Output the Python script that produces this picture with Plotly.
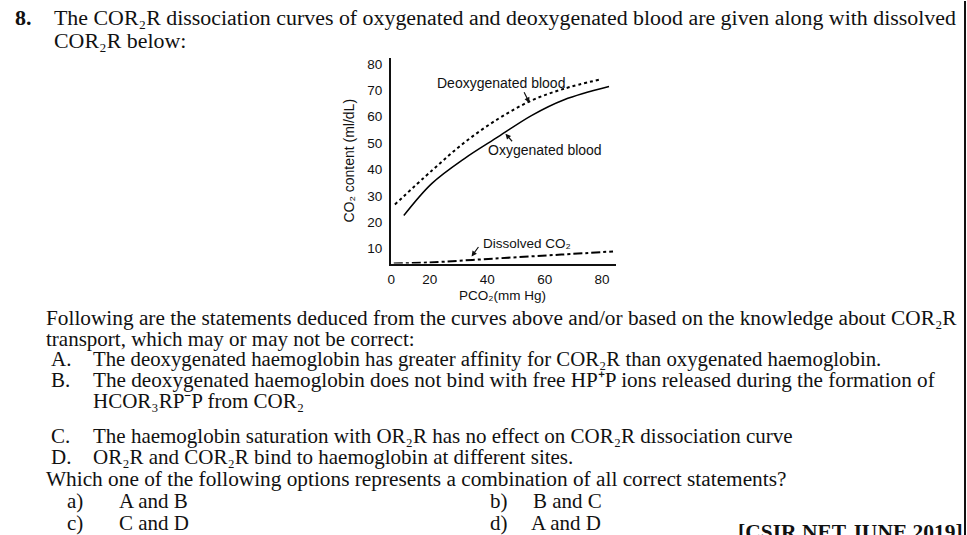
import plotly.graph_objects as go

W, H = 967, 535

# ---------------- data ----------------
pco2_deoxy = [7.9, 20.7, 32.1, 43.9, 55.4, 66.8, 78.9]
co2_deoxy = [26.7, 39.5, 50.2, 59.2, 66.1, 70.6, 74.0]

pco2_oxy = [11.0, 20.7, 32.1, 43.9, 55.4, 66.8, 82.4]
co2_oxy = [22.5, 34.6, 44.1, 52.4, 60.4, 66.4, 71.4]

pco2_dissolved = [7.5, 19.7, 42.5, 65.8, 83.8]
co2_dissolved = [4.3, 4.7, 6.2, 7.7, 8.9]

x_tick_vals = [6.6, 20, 40, 60, 80]
x_tick_text = ["0", "20", "40", "60", "80"]
y_tick_vals = [10, 20, 30, 40, 50, 60, 70, 80]
y_tick_text = ["10", "20", "30", "40", "50", "60", "70", "80"]

X_RANGE = [6.47, 84.86]
Y_RANGE = [4.32, 82.27]


def px(x):
    return x / W


def py(y):
    return 1 - y / H


fig = go.Figure()
fig.add_trace(go.Scatter(x=pco2_deoxy, y=co2_deoxy, mode="lines",
                         line=dict(color="black", width=2, dash="dot", shape="spline"),
                         showlegend=False, hoverinfo="skip"))
fig.add_trace(go.Scatter(x=pco2_oxy, y=co2_oxy, mode="lines",
                         line=dict(color="black", width=1.5, shape="spline"),
                         showlegend=False, hoverinfo="skip"))
fig.add_trace(go.Scatter(x=pco2_dissolved, y=co2_dissolved, mode="lines",
                         line=dict(color="black", width=2, dash="dashdot", shape="spline"),
                         showlegend=False, hoverinfo="skip"))

chart_font = dict(family="Liberation Sans, Arial, sans-serif", size=13.5, color="#111")

fig.update_layout(
    width=W, height=H,
    margin=dict(l=0, r=0, t=0, b=0),
    paper_bgcolor="white", plot_bgcolor="white",
    xaxis=dict(domain=[px(389), px(615)], range=X_RANGE, showgrid=False, zeroline=False,
               showline=True, linecolor="#111", linewidth=1.5,
               tickvals=x_tick_vals, ticktext=x_tick_text,
               ticks="outside", ticklen=3, tickcolor="rgba(0,0,0,0)",
               tickfont=chart_font),
    yaxis=dict(domain=[py(263), py(57)], range=Y_RANGE, showgrid=False, zeroline=False,
               showline=True, linecolor="#111", linewidth=1.5,
               tickvals=y_tick_vals, ticktext=y_tick_text,
               ticks="outside", ticklen=4, tickcolor="rgba(0,0,0,0)",
               tickfont=chart_font),
)

ann = []


def label(text, x, y, size=14, xanchor="center", family="Liberation Sans, Arial, sans-serif",
          angle=0):
    ann.append(dict(text=text, x=px(x), y=py(y), xref="paper", yref="paper",
                    xanchor=xanchor, yanchor="middle", showarrow=False, textangle=angle,
                    font=dict(family=family, size=size, color="#111")))


def arrow(x_head, y_head, x_tail, y_tail):
    ann.append(dict(text="", x=px(x_head), y=py(y_head), xref="paper", yref="paper",
                    ax=x_tail - x_head, ay=y_tail - y_head, axref="pixel", ayref="pixel",
                    showarrow=True, arrowhead=2, arrowsize=0.9, arrowwidth=1.2,
                    arrowcolor="#111"))


# chart labels
label("Deoxygenated blood", 500, 82, 14)
arrow(528, 102, 522, 90)
label("Oxygenated blood", 544, 149, 14)
arrow(504, 133, 512, 142)
label("Dissolved CO₂", 526, 243, 13.5)
arrow(470, 256, 478, 245)
label("CO₂ content (ml/dL)", 347, 160, 14, angle=-90)
label("PCO₂(mm Hg)", 501, 295, 13.5)

# question text
SERIF = "Liberation Serif, Times New Roman, serif"
TS = 21


def line(text, x, y, size=TS, bold=False):
    t = f"<b>{text}</b>" if bold else text
    label(t, x, y, size, xanchor="left", family=SERIF)


line("8.", 10, 17, size=22, bold=True)
line("The COR₂R dissociation curves of oxygenated and deoxygenated blood are given along with dissolved", 49, 17, size=21.9)
line("COR₂R below:", 49, 40, size=21.9)
line("Following are the statements deduced from the curves above and/or based on the knowledge about COR₂R", 41, 318, size=21.3)
line("transport, which may or may not be correct:", 41, 339)
line("A.", 46, 359)
line("The deoxygenated haemoglobin has greater affinity for COR₂R than oxygenated haemoglobin.", 88, 359, size=20.8)
line("B.", 46, 380)
line("The deoxygenated haemoglobin does not bind with free HP⁺P ions released during the formation of", 88, 380, size=21.2)
line("HCOR₃RP⁻P from COR₂", 88, 401)
line("C.", 46, 436)
line("The haemoglobin saturation with OR₂R has no effect on COR₂R dissociation curve", 88, 436)
line("D.", 46, 457)
line("OR₂R and COR₂R bind to haemoglobin at different sites.", 88, 457)
line("Which one of the following options represents a combination of all correct statements?", 41, 479, size=21.3)
line("a)", 62, 501)
line("A and B", 114, 501)
line("b)", 487, 501)
line("B and C", 530, 501)
line("c)", 62, 523)
line("C and D", 114, 523)
line("d)", 487, 523)
line("A and D", 528, 523)
line("[CSIR NET JUNE 2019]", 735, 532, size=21.5, bold=True)

fig.update_layout(annotations=ann,
                  shapes=[dict(type="line", xref="paper", yref="paper",
                               x0=px(965), x1=px(965), y0=0, y1=1,
                               line=dict(color="#111", width=2))])

fig.write_html("out.html")
